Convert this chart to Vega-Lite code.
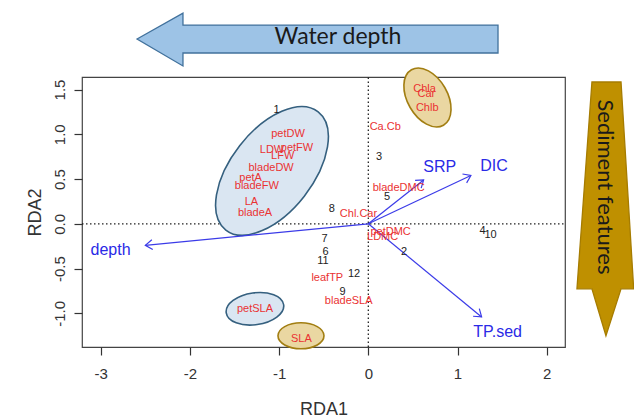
{
  "$schema": "https://vega.github.io/schema/vega-lite/v6.json",
  "width": 483,
  "height": 270,
  "autosize": {"type": "none"},
  "padding": {"left": 82, "top": 77, "right": 69, "bottom": 70},
  "background": "white",
  "config": {
    "view": {"stroke": "#444", "strokeWidth": 1.2},
    "font": "Liberation Sans",
    "axis": {
      "domain": false, "grid": false, "tickSize": 8, "tickColor": "#333", "tickWidth": 1.2,
      "labelFont": "Liberation Sans", "labelFontSize": 15, "labelColor": "#333",
      "labelOverlap": false, "labelFlush": false,
      "titleFont": "Liberation Sans", "titleFontSize": 18, "titleFontWeight": "normal", "titleColor": "#333"
    }
  },
  "encoding": {
    "x": {"field": "x", "type": "quantitative", "title": "RDA1",
      "scale": {"domain": [-3.21, 2.205], "nice": false, "zero": false},
      "axis": {"values": [-3, -2, -1, 0, 1, 2],
        "labelExpr": "replace(datum.label, '\u2212', '-')",
        "labelPadding": 11, "titleY": 62, "titleBaseline": "middle"}},
    "y": {"field": "y", "type": "quantitative", "title": "RDA2",
      "scale": {"domain": [-1.376, 1.64], "nice": false, "zero": false},
      "axis": {"values": [-1, -0.5, 0, 0.5, 1, 1.5], "format": ".1f",
        "labelExpr": "replace(datum.label, '\u2212', '-')",
        "labelAngle": 270, "labelAlign": "center", "labelBaseline": "alphabetic", "labelPadding": 10,
        "titleAngle": 270, "titleX": -47, "titleBaseline": "middle"}}
  },
  "datasets": {
    "sites": [
      {"label": "1", "x": -1.03, "y": 1.27},
      {"label": "3", "x": 0.12, "y": 0.75},
      {"label": "5", "x": 0.21, "y": 0.30},
      {"label": "8", "x": -0.41, "y": 0.16},
      {"label": "7", "x": -0.49, "y": -0.17},
      {"label": "6", "x": -0.48, "y": -0.31},
      {"label": "11", "x": -0.51, "y": -0.41},
      {"label": "12", "x": -0.16, "y": -0.56},
      {"label": "9", "x": -0.29, "y": -0.76},
      {"label": "2", "x": 0.40, "y": -0.31},
      {"label": "4", "x": 1.28, "y": -0.075},
      {"label": "10", "x": 1.37, "y": -0.12}
    ],
    "species": [
      {"label": "petDW", "x": -0.90, "y": 1.00},
      {"label": "LDW", "x": -1.08, "y": 0.82},
      {"label": "petFW", "x": -0.80, "y": 0.85},
      {"label": "LFW", "x": -0.96, "y": 0.76},
      {"label": "bladeDW", "x": -1.09, "y": 0.62},
      {"label": "petA", "x": -1.32, "y": 0.51},
      {"label": "bladeFW", "x": -1.25, "y": 0.42},
      {"label": "LA", "x": -1.31, "y": 0.24},
      {"label": "bladeA", "x": -1.27, "y": 0.12},
      {"label": "Ca.Cb", "x": 0.19, "y": 1.08},
      {"label": "bladeDMC", "x": 0.34, "y": 0.40},
      {"label": "Chl.Car", "x": -0.11, "y": 0.11},
      {"label": "petDMC", "x": 0.25, "y": -0.09},
      {"label": "LDMC", "x": 0.16, "y": -0.15},
      {"label": "leafTP", "x": -0.46, "y": -0.60},
      {"label": "bladeSLA", "x": -0.22, "y": -0.86},
      {"label": "petSLA", "x": -1.27, "y": -0.95},
      {"label": "SLA", "x": -0.75, "y": -1.29},
      {"label": "Chla", "x": 0.63, "y": 1.51},
      {"label": "Car", "x": 0.65, "y": 1.45},
      {"label": "Chlb", "x": 0.66, "y": 1.29}
    ],
    "env": [
      {"label": "depth", "x": -2.50, "y": -0.24},
      {"label": "SRP", "x": 0.62, "y": 0.49},
      {"label": "DIC", "x": 1.15, "y": 0.54},
      {"label": "TP.sed", "x": 1.27, "y": -1.04}
    ],
    "envlab": [
      {"label": "depth", "x": -2.89, "y": -0.29},
      {"label": "SRP", "x": 0.80, "y": 0.64},
      {"label": "DIC", "x": 1.41, "y": 0.65},
      {"label": "TP.sed", "x": 1.45, "y": -1.21}
    ],
    "waterArrow": [
      {"x": -2.593, "y": 2.064, "y2": 2.064},
      {"x": -2.078, "y": 2.354, "y2": 1.763},
      {"x": -2.078, "y": 2.220, "y2": 1.908},
      {"x": 1.454, "y": 2.220, "y2": 1.908}
    ],
    "sedArrow": [
      {"y": 1.584, "x": 2.507, "x2": 2.833},
      {"y": -0.726, "x": 2.339, "x2": 2.975},
      {"y": -0.726, "x": 2.507, "x2": 2.833},
      {"y": -1.251, "x": 2.664, "x2": 2.664}
    ],
    "hline": [{"x": -3.21, "x2": 2.205, "y": 0}],
    "vline": [{"x": 0, "y": -1.376, "y2": 1.64}]
  },
  "layer": [
    {
      "data": {"name": "hline"},
      "mark": {"type": "rule", "color": "#222", "strokeWidth": 1.3, "strokeDash": [1.5, 2.5]},
      "encoding": {"x2": {"field": "x2"}}
    },
    {
      "data": {"name": "vline"},
      "mark": {"type": "rule", "color": "#222", "strokeWidth": 1.3, "strokeDash": [1.5, 2.5]},
      "encoding": {"y2": {"field": "y2"}}
    },
    {
      "data": {"values": [{"x": -1.08, "y": 0.591}]},
      "mark": {"type": "point", "shape": "M -1 0 A 1 0.547 0 1 1 1 0 A 1 0.547 0 1 1 -1 0 Z",
        "size": 22500, "angle": 308, "filled": true, "fill": "#DAE6F2", "fillOpacity": 1,
        "stroke": "#35607F", "strokeWidth": 1.6, "opacity": 1},
      "encoding": {}
    },
    {
      "data": {"values": [{"x": -1.271, "y": -0.949}]},
      "mark": {"type": "point", "shape": "M -1 0 A 1 0.55 0 1 1 1 0 A 1 0.55 0 1 1 -1 0 Z",
        "size": 3364, "angle": 352, "filled": true, "fill": "#DAE6F2", "fillOpacity": 1,
        "stroke": "#35607F", "strokeWidth": 1.6, "opacity": 1},
      "encoding": {}
    },
    {
      "data": {"values": [{"x": -0.755, "y": -1.251}]},
      "mark": {"type": "point", "shape": "M -1 0 A 1 0.565 0 1 1 1 0 A 1 0.565 0 1 1 -1 0 Z",
        "size": 2116, "angle": 0, "filled": true, "fill": "#EAD7A2", "fillOpacity": 1,
        "stroke": "#A27E12", "strokeWidth": 1.6, "opacity": 1},
      "encoding": {}
    },
    {
      "data": {"values": [{"x": 0.663, "y": 1.411}]},
      "mark": {"type": "point", "shape": "M -1 0 A 1 0.625 0 1 1 1 0 A 1 0.625 0 1 1 -1 0 Z",
        "size": 4096, "angle": 60, "filled": true, "fill": "#EAD7A2", "fillOpacity": 1,
        "stroke": "#A27E12", "strokeWidth": 1.6, "opacity": 1},
      "encoding": {}
    },
    {
      "data": {"name": "env"},
      "mark": {"type": "rule", "color": "#3B3BE8", "strokeWidth": 1.2},
      "encoding": {
        "x2": {"datum": 0},
        "y2": {"datum": 0}
      }
    },
    {
      "data": {"name": "env"},
      "transform": [{"calculate": "(360 - atan2(datum.y, datum.x) * 180 / PI) % 360", "as": "ang"}],
      "mark": {"type": "point", "shape": "M -1 -0.7 L 0 0 L -1 0.7", "size": 196, "filled": false,
        "stroke": "#3B3BE8", "strokeWidth": 1.2, "opacity": 1},
      "encoding": {
        "angle": {"field": "ang", "type": "quantitative", "scale": null}
      }
    },
    {
      "data": {"name": "sites"},
      "mark": {"type": "text", "font": "Liberation Sans", "fontSize": 11, "color": "#222", "align": "center", "baseline": "middle"},
      "encoding": {"text": {"field": "label"}}
    },
    {
      "data": {"name": "species"},
      "mark": {"type": "text", "font": "Liberation Sans", "fontSize": 11, "color": "#EA3232", "align": "center", "baseline": "middle"},
      "encoding": {"text": {"field": "label"}}
    },
    {
      "data": {"name": "envlab"},
      "mark": {"type": "text", "font": "Liberation Sans", "fontSize": 16, "color": "#2A2AE6", "align": "center", "baseline": "middle"},
      "encoding": {"text": {"field": "label"}}
    },
    {
      "data": {"name": "waterArrow"},
      "mark": {"type": "area", "orient": "vertical", "fill": "#9DC3E6", "fillOpacity": 1, "stroke": "#41719C", "strokeWidth": 1.3, "opacity": 1},
      "encoding": {"y2": {"field": "y2"}}
    },
    {
      "data": {"name": "sedArrow"},
      "mark": {"type": "area", "orient": "horizontal", "fill": "#BF9000", "fillOpacity": 1, "stroke": "#A67C00", "strokeWidth": 1.3, "opacity": 1},
      "encoding": {"x2": {"field": "x2"}}
    },
    {
      "data": {"values": [{"t": "Water depth", "x": -0.34, "y": 2.086}]},
      "mark": {"type": "text", "font": "Lato", "fontSize": 23, "color": "#1a1a1a", "align": "center", "baseline": "middle"},
      "encoding": {"text": {"field": "t"}}
    },
    {
      "data": {"values": [{"t": "Sediment features", "x": 2.653, "y": 0.412}]},
      "mark": {"type": "text", "font": "Lato", "fontSize": 22, "color": "#1a1a1a", "align": "center", "baseline": "middle", "angle": 90},
      "encoding": {"text": {"field": "t"}}
    }
  ]
}
